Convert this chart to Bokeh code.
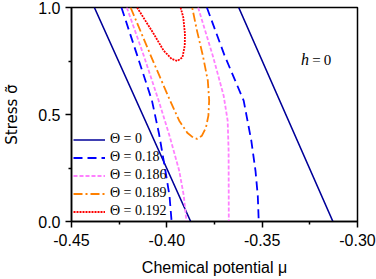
from bokeh.plotting import figure
from bokeh.models import Range1d, FixedTicker, PrintfTickFormatter, Label, Legend, LegendItem
from bokeh.embed import file_html
from bokeh.resources import INLINE

nan = float("nan")

# Theta = 0 (two straight branches)
mu_t0 = [-0.4380, -0.3875, nan, -0.3623, -0.3129]
s_t0 = [1.0, 0.0, nan, 1.0, 0.0]

# Theta = 0.18
mu_t18 = [-0.4238, -0.4155, -0.4078, -0.4041, -0.4010, -0.3986, -0.3975, nan,
          -0.3790, -0.3697, -0.3597, -0.3557, -0.3535, -0.3523, -0.3518]
s_t18 = [1.0, 0.775, 0.565, 0.410, 0.251, 0.120, 0.0, nan,
         1.0, 0.775, 0.565, 0.378, 0.237, 0.120, 0.0]

# Theta = 0.186
mu_t186 = [-0.4210, -0.4121, -0.4043, -0.3986, -0.3935, -0.3911, -0.3897, nan,
           -0.3836, -0.3759, -0.3702, -0.3681, -0.3676, -0.3675]
s_t186 = [1.0, 0.775, 0.565, 0.401, 0.237, 0.120, 0.0, nan,
          1.0, 0.775, 0.588, 0.471, 0.331, 0.0]

# Theta = 0.189 (closed U)
mu_t189 = [-0.4190, -0.4080, -0.3983, -0.3935, -0.3893, -0.3862, -0.3842, -0.3816,
           -0.3795, -0.3782, -0.3778, -0.3785, -0.3811, -0.3842, -0.3867]
s_t189 = [1.0, 0.766, 0.565, 0.471, 0.415, 0.392, 0.386, 0.401,
          0.438, 0.495, 0.565, 0.658, 0.775, 0.892, 1.0]

# Theta = 0.192 (closed U)
mu_t192 = [-0.4156, -0.4069, -0.4017, -0.3975, -0.3945, -0.3918, -0.3906, -0.3905,
           -0.3914, -0.3928]
s_t192 = [1.0, 0.877, 0.799, 0.760, 0.750, 0.767, 0.822, 0.877, 0.955, 1.0]

x_ticks = [-0.45, -0.40, -0.35, -0.30]
x_minor = [-0.425, -0.375, -0.325]
y_ticks = [0.0, 0.5, 1.0]
y_minor = [0.25, 0.75]

p = figure(width=376, height=279, output_backend="svg", toolbar_location=None,
           x_range=Range1d(-0.45, -0.30), y_range=Range1d(0.0, 1.0),
           min_border_left=67, min_border_right=19, min_border_top=7, min_border_bottom=58)
p.grid.visible = False
p.outline_line_color = "black"
p.outline_line_width = 1.5
p.background_fill_color = "white"
p.border_fill_color = "white"

r0 = p.line(mu_t0, s_t0, line_color="#000099", line_width=1.6)
r1 = p.line(mu_t18, s_t18, line_color="#0000ff", line_width=1.8, line_dash="9 5")
r2 = p.line(mu_t186, s_t186, line_color="#ff80ff", line_width=1.8, line_dash="4 2")
r3 = p.line(mu_t189, s_t189, line_color="#ff8000", line_width=1.8, line_dash="9 3 2 3")
r4 = p.line(mu_t192, s_t192, line_color="#ff0000", line_width=1.8, line_dash="2 1")

legend = Legend(items=[
    LegendItem(label="\u0398 = 0", renderers=[r0]),
    LegendItem(label="\u0398 = 0.18", renderers=[r1]),
    LegendItem(label="\u0398 = 0.186", renderers=[r2]),
    LegendItem(label="\u0398 = 0.189", renderers=[r3]),
    LegendItem(label="\u0398 = 0.192", renderers=[r4]),
], location="bottom_left")
legend.margin = 0
legend.padding = 2
legend.spacing = 2
legend.glyph_width = 32
legend.glyph_height = 15
legend.label_height = 15
legend.label_standoff = 5
legend.label_text_font = "Liberation Serif"
legend.label_text_font_size = "14px"
legend.label_text_color = "black"
legend.background_fill_alpha = 0
legend.border_line_alpha = 0
p.add_layout(legend, "center")

for ax in (p.xaxis[0], p.yaxis[0]):
    ax.axis_line_width = 1.5
    ax.axis_line_color = "black"
    ax.major_tick_line_width = 1.5
    ax.minor_tick_line_width = 1.5
    ax.major_tick_out = 6
    ax.major_tick_in = 0
    ax.minor_tick_out = 3
    ax.minor_tick_in = 0
    ax.major_label_text_font = "Liberation Sans"
    ax.major_label_text_font_size = "16px"
    ax.major_label_text_color = "black"
    ax.axis_label_text_font = "Liberation Sans"
    ax.axis_label_text_font_size = "16px"
    ax.axis_label_text_font_style = "normal"
    ax.axis_label_text_color = "black"

p.xaxis[0].ticker = FixedTicker(ticks=x_ticks, minor_ticks=x_minor)
p.xaxis[0].formatter = PrintfTickFormatter(format="%.2f")
p.xaxis[0].axis_label = "Chemical potential \u03bc"
p.xaxis[0].major_label_standoff = 6
p.xaxis[0].axis_label_standoff = 10

p.yaxis[0].ticker = FixedTicker(ticks=y_ticks, minor_ticks=y_minor)
p.yaxis[0].formatter = PrintfTickFormatter(format="%.1f")
p.yaxis[0].axis_label = "Stress \u03c3\u0303"
p.yaxis[0].axis_label_text_font = "DejaVu Sans"
p.yaxis[0].axis_label_text_font_size = "15px"
p.yaxis[0].major_label_standoff = 5
p.yaxis[0].axis_label_standoff = 14

p.add_layout(Label(x=-0.3296, y=0.755, text="h", text_font="Liberation Serif",
                   text_font_style="italic", text_font_size="16px", text_baseline="alphabetic",
                   text_color="black"))
p.add_layout(Label(x=-0.3237, y=0.755, text="=\u20090", text_font="Liberation Serif",
                   text_font_size="15px", text_baseline="alphabetic", text_color="black"))

open("out.html", "w").write(file_html(p, INLINE))
